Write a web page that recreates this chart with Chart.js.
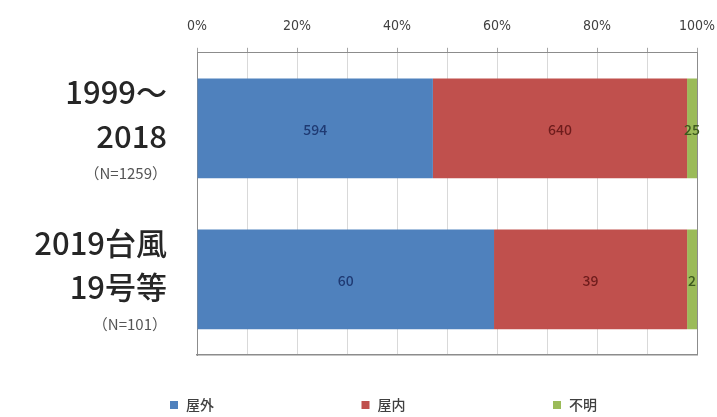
<!DOCTYPE html>
<html>
<head>
<meta charset="utf-8">
<script src="https://cdn.jsdelivr.net/npm/chart.js@4/dist/chart.umd.min.js"></script>
<style>
  html, body { margin: 0; padding: 0; background: #ffffff; }
  canvas { display: block; }
</style>
</head>
<body>
<canvas id="chart" width="717" height="417"></canvas>
<script>
// Category label lines (large period name, then the sample size)
const categories = [
  ['1999～', '2018', '（N=1259）'],
  ['2019台風', '19号等', '（N=101）']
];
const seriesNames = ['屋外', '屋内', '不明'];
const outdoorCounts = [594, 60];
const indoorCounts = [640, 39];
const unknownCounts = [25, 2];
const tickLabels = ['0%', '20%', '40%', '60%', '80%', '100%'];

const seriesCounts = [outdoorCounts, indoorCounts, unknownCounts];
const barColors = ['#4f81bd', '#c0504d', '#9bbb59'];
const valueColors = ['#1f3a73', '#6e1c1c', '#3d5a1e'];

const totals = categories.map((_, i) => seriesCounts.reduce((s, arr) => s + arr[i], 0));
const toPercent = arr => arr.map((v, i) => v / totals[i] * 100);

const FONT = '"Noto Sans CJK JP", "Noto Sans", sans-serif';
const AXIS_COLOR = '#8c8c8c';

// Count labels centred in every stacked segment
const valueLabels = {
  id: 'valueLabels',
  afterDatasetsDraw(chart) {
    const ctx = chart.ctx;
    ctx.save();
    ctx.font = '500 14px ' + FONT;
    ctx.textAlign = 'center';
    ctx.textBaseline = 'middle';
    chart.data.datasets.forEach((ds, di) => {
      const meta = chart.getDatasetMeta(di);
      meta.data.forEach((bar, i) => {
        const p = bar.getProps(['x', 'base', 'y'], true);
        ctx.fillStyle = valueColors[di];
        ctx.fillText(String(ds.counts[i]), (p.x + p.base) / 2, p.y + 1);
      });
    });
    ctx.restore();
  }
};

// Multi-size category labels to the left of the plot
const categoryLabels = {
  id: 'categoryLabels',
  afterDraw(chart) {
    const ctx = chart.ctx;
    const yScale = chart.scales.y;
    const xRight = chart.chartArea.left - 30;
    const fonts = ['500 31px ' + FONT, '500 31px ' + FONT, '15px ' + FONT];
    const offsets = [-36, 8, 45];
    ctx.save();
    ctx.textAlign = 'right';
    ctx.textBaseline = 'middle';
    categories.forEach((lines, i) => {
      const yc = yScale.getPixelForValue(i);
      lines.forEach((line, li) => {
        ctx.font = fonts[li];
        ctx.fillStyle = li === 2 ? '#555555' : '#262626';
        ctx.fillText(line, xRight, yc + offsets[li]);
      });
    });
    ctx.restore();
  }
};

// Widely spaced legend along the bottom
const bottomLegend = {
  id: 'bottomLegend',
  afterDraw(chart) {
    const ctx = chart.ctx;
    const area = chart.chartArea;
    const startX = area.left - 27;
    const step = 191.5;
    const y = 405;
    ctx.save();
    ctx.font = '500 14px ' + FONT;
    ctx.textBaseline = 'middle';
    ctx.textAlign = 'left';
    chart.data.datasets.forEach((ds, i) => {
      const x = startX + step * i;
      ctx.fillStyle = ds.backgroundColor;
      ctx.fillRect(x, y - 4, 8, 8);
      ctx.fillStyle = '#404040';
      ctx.fillText(ds.label, x + 16, y);
    });
    ctx.restore();
  }
};

new Chart(document.getElementById('chart'), {
  type: 'bar',
  data: {
    labels: categories.map(c => c.join(' ')),
    datasets: seriesNames.map((name, i) => ({
      label: name,
      data: toPercent(seriesCounts[i]),
      counts: seriesCounts[i],
      backgroundColor: barColors[i],
      borderWidth: 0,
      categoryPercentage: 0.66,
      barPercentage: 1.0
    }))
  },
  options: {
    indexAxis: 'y',
    responsive: false,
    animation: false,
    devicePixelRatio: 1,
    layout: { padding: { top: 5, right: 20, bottom: 62, left: 0 } },
    plugins: {
      legend: { display: false },
      tooltip: { enabled: false }
    },
    scales: {
      x: {
        type: 'linear',
        position: 'top',
        stacked: true,
        min: 0,
        max: 100,
        ticks: {
          stepSize: 10,
          autoSkip: false,
          maxRotation: 0,
          padding: 13,
          color: '#404040',
          font: { family: '"Liberation Sans Narrow", "DejaVu Sans Condensed", sans-serif', size: 14 },
          callback: v => (v % 20 === 0 ? tickLabels[v / 20] : '')
        },
        grid: {
          color: c => (c.tick && c.tick.value === 100 ? AXIS_COLOR : '#d9d9d9'),
          tickColor: '#a6a6a6',
          tickLength: 5,
          lineWidth: 1
        },
        border: { color: AXIS_COLOR, width: 1 },
        // let the 100% label run into the right margin
        afterFit: s => { s.paddingLeft = 0; s.paddingRight = 0; }
      },
      xBottom: {
        type: 'linear',
        position: 'bottom',
        min: 0,
        max: 100,
        ticks: { display: false },
        grid: { display: false },
        border: { display: true, color: AXIS_COLOR, width: 1.5 },
        afterFit: s => { s.height = 0; s.paddingLeft = 0; s.paddingRight = 0; }
      },
      y: {
        stacked: true,
        ticks: { display: false },
        grid: { display: false },
        border: { color: AXIS_COLOR, width: 1 },
        afterFit: s => { s.width = 197; }
      }
    }
  },
  plugins: [valueLabels, categoryLabels, bottomLegend]
});
</script>
</body>
</html>
